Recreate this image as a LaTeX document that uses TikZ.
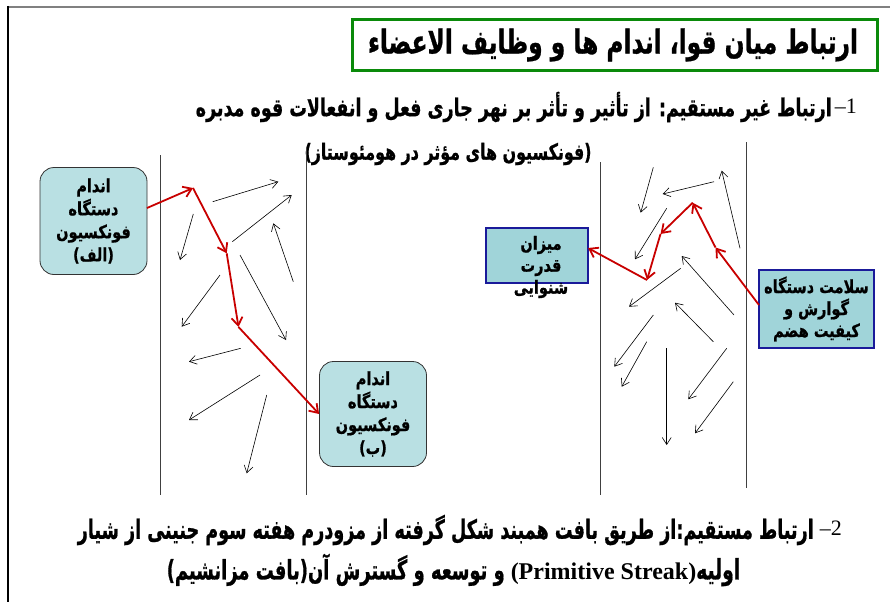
\documentclass[tikz,border=0pt]{standalone}
\usepackage{fontspec}
\usepackage{graphicx}
\usetikzlibrary{arrows.meta}
\TeXXeTstate=1
\newfontfamily\ar[Script=Arabic, BoldFeatures={FakeBold=1}]{DejaVu Sans}
\newfontfamily\tnr{Liberation Serif}
\newcommand\RL[1]{\scalebox{1}[1.25]{\beginR#1\endR}}
\newcommand\fitline[3]{\scalebox{1}[#2]{\resizebox{#1}{!}{\beginR#3\endR}}}
\definecolor{fillA}{HTML}{B9E0E3}
\definecolor{fillB}{HTML}{A0D4D9}
\definecolor{boxblue}{HTML}{1A1A9A}
\definecolor{arrred}{HTML}{C80000}
\definecolor{titlegreen}{HTML}{0A8A0A}
\begin{document}
\begin{tikzpicture}[x=1pt,y=-1pt,
  organ/.style={draw=black!80, line width=0.8pt, rounded corners=14pt, fill=fillA,
    minimum width=107pt, minimum height=107pt, inner sep=0pt, align=center,
    font=\ar\bfseries\fontsize{14.5}{23}\selectfont},
  effbox/.style={draw=boxblue, line width=2.2pt, fill=fillB, inner sep=0pt, align=center,
    font=\ar\bfseries\fontsize{14.5}{22}\selectfont},
  boxtext/.style={inner sep=0pt, align=center, font=\ar\bfseries\fontsize{14.5}{22}\selectfont},
  thinarrow/.style={draw=black, line width=0.6pt, -{Straight Barb[length=7pt,width=9pt]}},
  redarrow/.style={draw=arrred, line width=1.8pt, -{Straight Barb[length=8pt,width=11pt]}},
  sepline/.style={draw=black!75, line width=0.8pt},
  textline/.style={inner sep=0pt, font=\ar\bfseries},
  numtext/.style={inner sep=0pt, font=\tnr\fontsize{22}{22}\selectfont}
]
\useasboundingbox (0,0) rectangle (890,602);
% slide frame
\draw[gray, line width=2pt] (8,7) -- (890,7);
\draw[black, line width=2.5pt] (8,6) -- (8,602);

% title
\node[draw=titlegreen, line width=3pt, minimum width=525pt, minimum height=51pt, inner sep=0pt] (titlebox) at (614.5,45) {};
\node[textline] (title) at (613,45) {\fitline{490pt}{1.4}{ارتباط میان قوا، اندام ها و وظایف الاعضاء}};

% line 1
\node[textline, anchor=east] (l1) at (832,107) {\fitline{636pt}{1.4}{ارتباط غیر مستقیم: از تأثیر و تأثر بر نهر جاری فعل و انفعالات قوه مدبره}};
\node[numtext, anchor=east] (n1) at (857,106) {–1};
\node[textline] (sub) at (448,154) {\fitline{287pt}{1.4}{(فونکسیون های مؤثر در هومئوستاز)}};

% separators
\draw[sepline] (160,155) -- (160,495);
\draw[sepline] (306,148) -- (306,495);
\draw[sepline] (600,162) -- (600,495);
\draw[sepline] (746,142) -- (746,488);

% boxes
\node[organ] (boxA) at (93.5,221) {\RL{اندام}\\\RL{دستگاه}\\\RL{فونکسیون}\\\RL{(الف)}};
\node[organ, minimum height=105pt] (boxB) at (373,414) {\RL{اندام}\\\RL{دستگاه}\\\RL{فونکسیون}\\\RL{(ب)}};
\node[effbox, minimum width=102pt, minimum height=55pt] (boxM) at (537,255.5) {};
\node[boxtext] (textM) at (541,267) {\RL{میزان}\\\RL{قدرت}\\\RL{شنوایی}};
\node[effbox, minimum width=115pt, minimum height=78pt] (boxS) at (816.5,309) {\RL{سلامت دستگاه}\\\RL{گوارش و}\\\RL{کیفیت هضم}};

% red path left
\coordinate (a0) at (147,208);
\coordinate (a1) at (193,188);
\coordinate (a2) at (226.7,253.3);
\coordinate (a3) at (238.5,327);
\draw[redarrow] (a0) -- (a1);
\draw[redarrow] (a1) -- (a2);
\draw[redarrow] (a2) -- (a3);
\draw[redarrow] (a3) -- (boxB.west);

% red path right
\coordinate (s0) at (759,305);
\coordinate (r1) at (715.5,247.5);
\coordinate (r2) at (692.7,202.7);
\coordinate (r3) at (660.5,234);
\coordinate (r4) at (647,280);
\coordinate (m0) at (588,248);
\draw[redarrow] (s0) -- (r1);
\draw[redarrow] (r1) -- (r2);
\draw[redarrow] (r2) -- (r3);
\draw[redarrow] (r3) -- (r4);
\draw[redarrow] (r4) -- (m0);

% thin arrows left
\foreach \ax/\ay/\bx/\by in {
  212.7/201.7/278.3/181.7, 193.3/214/180/260, 232.3/241.7/291.7/195,
  293.3/281.7/273.3/223.3, 220/275/181.7/326.7, 240/255/286/340,
  240.7/348.3/189/361.7, 260/375/189/420, 266.7/395/246.7/473.3}
  \draw[thinarrow] (\ax,\ay) -- (\bx,\by);
% thin arrows right
\foreach \ax/\ay/\bx/\by in {
  653.3/167.3/640.7/212.7, 714/181.7/662.7/194, 740/248.3/721.7/170.7,
  666.7/208.3/635/259.3, 680.7/268.3/629/306.7, 734/315/681.7/256,
  713.3/341.7/675/302.7, 653.3/315/614.3/366.7, 646.7/341.7/621.7/386.7,
  666.7/348.3/666.7/445, 726.7/348.3/688.3/399.3, 733.3/381.7/695/433.3}
  \draw[thinarrow] (\ax,\ay) -- (\bx,\by);

% bottom text
\node[textline, anchor=east] (b1) at (814,530) {\fitline{736pt}{1.5}{ارتباط مستقیم:از طریق بافت همبند شکل گرفته از مزودرم هفته سوم جنینی از شیار}};
\node[numtext, anchor=east] (n2) at (842,528) {–2};
\node[textline] (b2) at (453.5,570) {\fitline{338pt}{1.5}{و توسعه و گسترش آن(بافت مزانشیم)}\hspace{6pt}{\tnr\bfseries\fontsize{24}{24}\selectfont(Primitive Streak)}\fitline{44pt}{1.5}{اولیه}};
\end{tikzpicture}
\end{document}
